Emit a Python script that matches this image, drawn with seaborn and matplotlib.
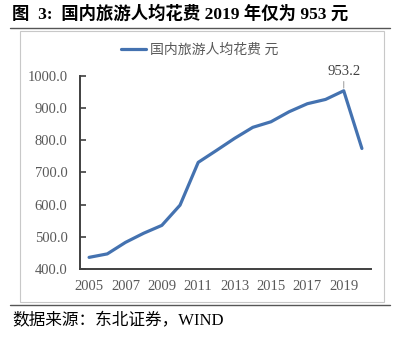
import matplotlib
matplotlib.use("Agg")
import matplotlib.pyplot as plt
import seaborn as sns
import pandas as pd
from matplotlib.lines import Line2D
from matplotlib.patches import Rectangle

years = [2005, 2006, 2007, 2008, 2009, 2010, 2011, 2012, 2013, 2014, 2015, 2016, 2017, 2018, 2019, 2020]
spend = [436.1, 446.9, 482.6, 511.0, 535.4, 598.2, 731.0, 767.9, 805.5, 839.7, 857.0, 888.2, 913.0, 926.3, 953.2, 774.1]
yticks = [400, 500, 600, 700, 800, 900, 1000]
xlabels = [2005, 2007, 2009, 2011, 2013, 2015, 2017, 2019]
series_name = "国内旅游人均花费 元"
title = "图  3:  国内旅游人均花费 2019 年仅为 953 元"
source = "数据来源：东北证券，WIND"

sns.set_theme(style="white")
fam = ["Liberation Serif", "Noto Sans CJK SC", "DejaVu Sans"]
plt.rcParams["font.family"] = fam

df = pd.DataFrame({"year": years, "value": spend})

fig = plt.figure(figsize=(4.0, 3.39), dpi=100)
ax = fig.add_axes([0.2, 0.2065, 0.7275, 0.5702])

line_color = "#4472B0"
sns.lineplot(data=df, x="year", y="value", ax=ax, color=line_color, linewidth=2.3, legend=False)

ax.set_xlim(2004.5, 2020.5)
ax.set_ylim(400, 1000)
ax.set_yticks(yticks)
ax.set_yticklabels([f"{v:.1f}" for v in yticks])
ax.set_xticks([2004.5 + 2 * i for i in range(9)])
ax.set_xticklabels([])
ax.set_xticks(xlabels, minor=True)
ax.set_xticklabels([str(v) for v in xlabels], minor=True)
ax.tick_params(axis="x", which="minor", length=0, labelsize=10.5, colors="#595959", pad=8)
ax.tick_params(axis="x", which="major", direction="in", length=4, width=1.2, color="#404040")
ax.tick_params(axis="y", direction="in", length=4, width=1.2, color="#404040", labelsize=10.5, labelcolor="#595959", pad=9, left=True)
ax.set_xlabel("")
ax.set_ylabel("")
for s in ["top", "right"]:
    ax.spines[s].set_visible(False)
for s in ["left", "bottom"]:
    ax.spines[s].set_color("#404040")
    ax.spines[s].set_linewidth(1.4)
ax.grid(False)
ax.set_facecolor("none")

i_max = spend.index(max(spend))
ax.annotate(f"{spend[i_max]:.1f}", xy=(years[i_max], spend[i_max]), xytext=(0, 9),
            textcoords="offset points", ha="center", va="bottom", fontsize=10.5, color="#404040",
            arrowprops=dict(arrowstyle="-", color="#A6A6A6", lw=0.8, shrinkA=0, shrinkB=2))

handle = Line2D([0], [0], color=line_color, linewidth=2.3)
fig.legend([handle], [series_name], loc="center", bbox_to_anchor=(0.5, 0.8525), frameon=False,
           handlelength=1.8, handletextpad=0.3, prop={"size": 10, "family": fam}, labelcolor="#595959")

fig.patches.append(Rectangle((0.05, 0.109), 0.91, 0.8, transform=fig.transFigure, fill=False,
                             edgecolor="#C8C8C8", linewidth=0.8))
fig.add_artist(Line2D([0.025, 0.975], [0.9174, 0.9174], transform=fig.transFigure, color="#555555", linewidth=1.0))
fig.add_artist(Line2D([0.025, 0.975], [0.1003, 0.1003], transform=fig.transFigure, color="#555555", linewidth=1.0))

fig.text(0.03, 0.959, title, ha="left", va="center", fontsize=12.5, fontweight="bold", color="black", family=fam)
fig.text(0.03, 0.053, source, ha="left", va="center", fontsize=12, color="black", family=fam)

fig.savefig("out.png", dpi=100)
